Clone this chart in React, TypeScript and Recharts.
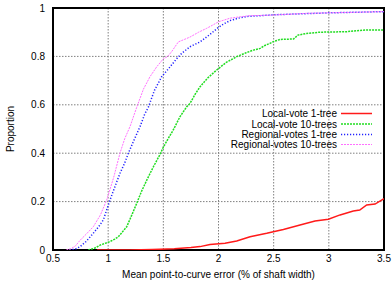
import React from 'react';
import { LineChart, Line, XAxis, YAxis, CartesianGrid, ReferenceArea, Legend } from 'recharts';

const xTicks = [0.5, 1, 1.5, 2, 2.5, 3, 3.5];
const yTicks = [0, 0.2, 0.4, 0.6, 0.8, 1];

const localVote1 = [
  { x: 0.9, y: 0 }, { x: 1.2, y: 0 }, { x: 1.4, y: 0.002 }, { x: 1.6, y: 0.005 }, { x: 1.75, y: 0.01 },
  { x: 1.833, y: 0.014 }, { x: 1.923, y: 0.023 }, { x: 2.059, y: 0.028 }, { x: 2.165, y: 0.037 },
  { x: 2.286, y: 0.055 }, { x: 2.437, y: 0.069 }, { x: 2.588, y: 0.085 }, { x: 2.739, y: 0.103 },
  { x: 2.875, y: 0.12 }, { x: 2.996, y: 0.127 }, { x: 3.102, y: 0.145 }, { x: 3.222, y: 0.161 },
  { x: 3.28, y: 0.165 }, { x: 3.343, y: 0.186 }, { x: 3.419, y: 0.19 }, { x: 3.5, y: 0.212 },
];

const localVote10 = [
  { x: 0.82, y: 0 }, { x: 0.88, y: 0.008 }, { x: 0.926, y: 0.02 }, { x: 1.017, y: 0.035 },
  { x: 1.06, y: 0.045 }, { x: 1.092, y: 0.055 }, { x: 1.13, y: 0.075 }, { x: 1.168, y: 0.096 },
  { x: 1.21, y: 0.14 }, { x: 1.259, y: 0.193 }, { x: 1.3, y: 0.24 }, { x: 1.35, y: 0.289 },
  { x: 1.41, y: 0.344 }, { x: 1.47, y: 0.395 }, { x: 1.5, y: 0.425 }, { x: 1.55, y: 0.465 },
  { x: 1.59, y: 0.496 }, { x: 1.65, y: 0.55 }, { x: 1.712, y: 0.592 }, { x: 1.742, y: 0.606 },
  { x: 1.79, y: 0.645 }, { x: 1.833, y: 0.675 }, { x: 1.9, y: 0.71 }, { x: 1.984, y: 0.744 },
  { x: 2.07, y: 0.775 }, { x: 2.166, y: 0.799 }, { x: 2.25, y: 0.815 }, { x: 2.316, y: 0.826 },
  { x: 2.377, y: 0.833 }, { x: 2.42, y: 0.845 }, { x: 2.467, y: 0.854 }, { x: 2.497, y: 0.861 },
  { x: 2.558, y: 0.87 }, { x: 2.68, y: 0.872 }, { x: 2.72, y: 0.888 }, { x: 2.8, y: 0.895 },
  { x: 2.92, y: 0.9 }, { x: 3.16, y: 0.902 }, { x: 3.25, y: 0.906 }, { x: 3.34, y: 0.909 }, { x: 3.5, y: 0.909 },
];

const regional1 = [
  { x: 0.65, y: 0 }, { x: 0.7, y: 0.003 }, { x: 0.745, y: 0.014 }, { x: 0.8, y: 0.035 },
  { x: 0.865, y: 0.069 }, { x: 0.92, y: 0.1 }, { x: 0.956, y: 0.124 }, { x: 0.99, y: 0.17 },
  { x: 1.017, y: 0.207 }, { x: 1.06, y: 0.26 }, { x: 1.107, y: 0.317 }, { x: 1.15, y: 0.36 },
  { x: 1.183, y: 0.4 }, { x: 1.24, y: 0.46 }, { x: 1.289, y: 0.51 }, { x: 1.33, y: 0.56 },
  { x: 1.364, y: 0.59 }, { x: 1.42, y: 0.66 }, { x: 1.485, y: 0.716 }, { x: 1.561, y: 0.757 },
  { x: 1.62, y: 0.79 }, { x: 1.667, y: 0.813 }, { x: 1.742, y: 0.84 }, { x: 1.833, y: 0.86 },
  { x: 1.92, y: 0.89 }, { x: 2.0, y: 0.92 }, { x: 2.05, y: 0.935 }, { x: 2.105, y: 0.948 },
  { x: 2.18, y: 0.958 }, { x: 2.256, y: 0.965 }, { x: 2.437, y: 0.97 }, { x: 2.5, y: 0.972 },
  { x: 3.0, y: 0.98 }, { x: 3.5, y: 0.985 },
];

const regional10 = [
  { x: 0.62, y: 0 }, { x: 0.66, y: 0.005 }, { x: 0.7, y: 0.015 }, { x: 0.745, y: 0.04 },
  { x: 0.8, y: 0.065 }, { x: 0.865, y: 0.096 }, { x: 0.93, y: 0.145 }, { x: 0.987, y: 0.207 },
  { x: 1.05, y: 0.3 }, { x: 1.107, y: 0.4 }, { x: 1.15, y: 0.46 }, { x: 1.198, y: 0.51 },
  { x: 1.259, y: 0.59 }, { x: 1.32, y: 0.665 }, { x: 1.379, y: 0.716 }, { x: 1.44, y: 0.757 },
  { x: 1.5, y: 0.79 }, { x: 1.54, y: 0.8 }, { x: 1.576, y: 0.82 }, { x: 1.636, y: 0.86 },
  { x: 1.69, y: 0.87 }, { x: 1.742, y: 0.88 }, { x: 1.82, y: 0.9 }, { x: 1.893, y: 0.916 },
  { x: 1.95, y: 0.93 }, { x: 2.0, y: 0.943 }, { x: 2.05, y: 0.95 }, { x: 2.105, y: 0.958 },
  { x: 2.2, y: 0.964 }, { x: 2.286, y: 0.968 }, { x: 2.437, y: 0.97 }, { x: 2.5, y: 0.971 },
  { x: 2.8, y: 0.978 }, { x: 3.0, y: 0.98 }, { x: 3.5, y: 0.985 },
];

const seriesNames = ['Local-vote 1-tree', 'Local-vote 10-trees', 'Regional-votes 1-tree', 'Regional-votes 10-trees'];

const series = [
  { name: seriesNames[0], data: localVote1, color: '#ff1a1a', dash: undefined, width: 1.5 },
  { name: seriesNames[1], data: localVote10, color: '#22dd22', dash: '2 1', width: 1.5 },
  { name: seriesNames[2], data: regional1, color: '#2222ff', dash: '1.2 1.8', width: 1.5 },
  { name: seriesNames[3], data: regional10, color: '#ff70ff', dash: '2 1', width: 1 },
];

const FONT = '"Liberation Sans", Arial, Helvetica, sans-serif';

const legendRows = [7.5, 18, 28.5, 38.5];

const renderLegend = () => (
  <svg width={230} height={46} style={{ display: 'block' }}>
    {series.map((s, i) => {
      const cy = legendRows[i];
      return (
        <g key={s.name}>
          <text x={187} y={cy + 3.6} textAnchor="end" fontSize={10} fontFamily={FONT} fill="#000">
            {s.name}
          </text>
          <line x1={191} x2={222} y1={cy} y2={cy} stroke={s.color} strokeWidth={s.width} strokeDasharray={s.dash} />
        </g>
      );
    })}
  </svg>
);

export default function App() {
  return (
    <div style={{ position: 'absolute', left: 0, top: 0, width: 392, height: 286, background: '#fff' }}>
      <LineChart width={392} height={286} margin={{ top: 8, right: 8, bottom: 0, left: 0 }}>
        <CartesianGrid stroke="#808080" strokeDasharray="1.5 1.5" strokeWidth={1} />
        <XAxis
          type="number"
          dataKey="x"
          domain={[0.5, 3.5]}
          ticks={xTicks}
          allowDataOverflow
          height={36}
          axisLine={false}
          tickLine={false}
          tickSize={0}
          tickMargin={5}
          tick={{ fontSize: 10, fontFamily: FONT, fill: '#000' }}
          label={{ value: 'Mean point-to-curve error (% of shaft width)', position: 'insideBottom', offset: 8, style: { fontSize: 10, fontFamily: FONT, fill: '#000' } }}
        />
        <YAxis
          type="number"
          domain={[0, 1]}
          ticks={yTicks}
          allowDataOverflow
          width={53}
          axisLine={false}
          tickLine={false}
          tickSize={0}
          tickMargin={8}
          tick={{ fontSize: 10, fontFamily: FONT, fill: '#000' }}
          label={{ value: 'Proportion', angle: -90, position: 'insideLeft', offset: 10, style: { fontSize: 10, fontFamily: FONT, fill: '#000', textAnchor: 'middle' } }}
        />
        <ReferenceArea x1={0.5} x2={3.5} y1={0} y2={1} fill="none" stroke="#000" strokeWidth={2} fillOpacity={0} />
        {series.map((s) => (
          <Line
            key={s.name}
            data={s.data}
            dataKey="y"
            name={s.name}
            type="linear"
            stroke={s.color}
            strokeWidth={s.width}
            strokeDasharray={s.dash}
            dot={false}
            activeDot={false}
            isAnimationActive={false}
          />
        ))}
        <Legend
          layout="horizontal"
          verticalAlign="middle"
          align="center"
          content={renderLegend}
          wrapperStyle={{ left: 150, top: 106, width: 230, height: 46 }}
        />
      </LineChart>
    </div>
  );
}
